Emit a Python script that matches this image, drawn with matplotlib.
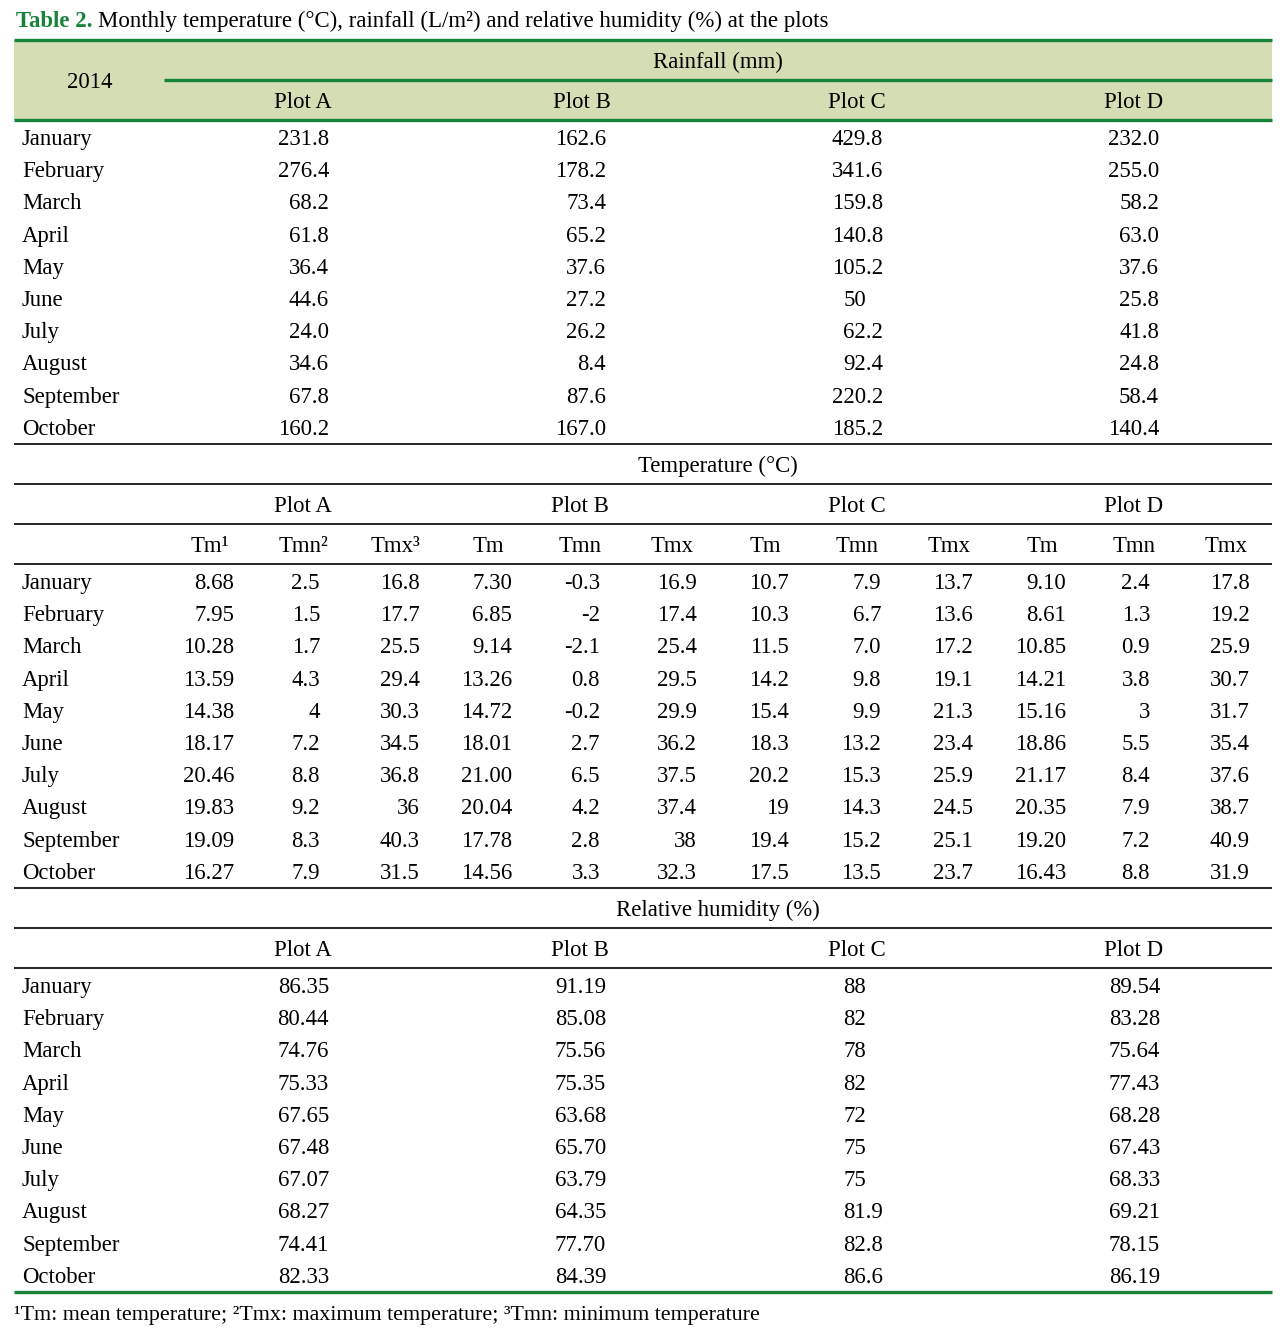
import matplotlib
matplotlib.use("Agg")
import matplotlib.pyplot as plt

# ---------------- data ----------------
months = ["January", "February", "March", "April", "May", "June",
          "July", "August", "September", "October"]
plots = ["Plot A", "Plot B", "Plot C", "Plot D"]

rain_a = ["231.8", "276.4", "68.2", "61.8", "36.4", "44.6", "24.0", "34.6", "67.8", "160.2"]
rain_b = ["162.6", "178.2", "73.4", "65.2", "37.6", "27.2", "26.2", "8.4", "87.6", "167.0"]
rain_c = ["429.8", "341.6", "159.8", "140.8", "105.2", "50", "62.2", "92.4", "220.2", "185.2"]
rain_d = ["232.0", "255.0", "58.2", "63.0", "37.6", "25.8", "41.8", "24.8", "58.4", "140.4"]

temp_labels = ["Tm\u00b9", "Tmn\u00b2", "Tmx\u00b3", "Tm", "Tmn", "Tmx",
               "Tm", "Tmn", "Tmx", "Tm", "Tmn", "Tmx"]
tm_a  = ["8.68", "7.95", "10.28", "13.59", "14.38", "18.17", "20.46", "19.83", "19.09", "16.27"]
tmn_a = ["2.5", "1.5", "1.7", "4.3", "4", "7.2", "8.8", "9.2", "8.3", "7.9"]
tmx_a = ["16.8", "17.7", "25.5", "29.4", "30.3", "34.5", "36.8", "36", "40.3", "31.5"]
tm_b  = ["7.30", "6.85", "9.14", "13.26", "14.72", "18.01", "21.00", "20.04", "17.78", "14.56"]
tmn_b = ["-0.3", "-2", "-2.1", "0.8", "-0.2", "2.7", "6.5", "4.2", "2.8", "3.3"]
tmx_b = ["16.9", "17.4", "25.4", "29.5", "29.9", "36.2", "37.5", "37.4", "38", "32.3"]
tm_c  = ["10.7", "10.3", "11.5", "14.2", "15.4", "18.3", "20.2", "19", "19.4", "17.5"]
tmn_c = ["7.9", "6.7", "7.0", "9.8", "9.9", "13.2", "15.3", "14.3", "15.2", "13.5"]
tmx_c = ["13.7", "13.6", "17.2", "19.1", "21.3", "23.4", "25.9", "24.5", "25.1", "23.7"]
tm_d  = ["9.10", "8.61", "10.85", "14.21", "15.16", "18.86", "21.17", "20.35", "19.20", "16.43"]
tmn_d = ["2.4", "1.3", "0.9", "3.8", "3", "5.5", "8.4", "7.9", "7.2", "8.8"]
tmx_d = ["17.8", "19.2", "25.9", "30.7", "31.7", "35.4", "37.6", "38.7", "40.9", "31.9"]

rh_a = ["86.35", "80.44", "74.76", "75.33", "67.65", "67.48", "67.07", "68.27", "74.41", "82.33"]
rh_b = ["91.19", "85.08", "75.56", "75.35", "63.68", "65.70", "63.79", "64.35", "77.70", "84.39"]
rh_c = ["88", "82", "78", "82", "72", "75", "75", "81.9", "82.8", "86.6"]
rh_d = ["89.54", "83.28", "75.64", "77.43", "68.28", "67.43", "68.33", "69.21", "78.15", "86.19"]

rain_cols = [rain_a, rain_b, rain_c, rain_d]
temp_cols = [tm_a, tmn_a, tmx_a, tm_b, tmn_b, tmx_b, tm_c, tmn_c, tmx_c, tm_d, tmn_d, tmx_d]
rh_cols = [rh_a, rh_b, rh_c, rh_d]

# ---------------- layout ----------------
W, H = 1280, 1336
fig = plt.figure(figsize=(W / 100, H / 100), dpi=100)
ax = fig.add_axes([0, 0, 1, 1])
ax.set_xlim(0, W)
ax.set_ylim(H, 0)
ax.axis("off")

FONT = "Liberation Serif"
FS = 16.4
GREEN = "#17833a"
FILL = "#d5ddb4"
X0, X1 = 14, 1272
BL = 8  # baseline offset from row centre

def txt(x, y, s, ha="left", **kw):
    return ax.text(x, y + BL, s, ha=ha, va="baseline", fontfamily=FONT,
                   fontsize=kw.pop("fs", FS), color=kw.pop("color", "black"), **kw)

def hline(y, x0=X0, x1=X1, color="black", lw=1.2):
    ax.plot([x0, x1], [y, y], color=color, lw=lw, solid_capstyle="butt")

# title
t1 = txt(16, 19, "Table 2.", color=GREEN, fontweight="bold")
fig.canvas.draw()
r = fig.canvas.get_renderer()
bb = t1.get_window_extent(renderer=r)
txt(bb.x1 + 6, 19, "Monthly temperature (\u00b0C), rainfall (L/m\u00b2) and relative humidity (%) at the plots",
    fs=16.5)

# width of a ".0" fraction for decimal alignment
tmp = txt(0, -100, ".0")
fig.canvas.draw()
frac_w = tmp.get_window_extent(renderer=r).width
tmp.remove()

def value(x_right, y, s, decimal=False):
    if decimal and "." not in s:
        txt(x_right - frac_w, y, s, ha="right")
    else:
        txt(x_right, y, s, ha="right")

# header block
ax.add_patch(plt.Rectangle((X0, 40), X1 - X0, 80, facecolor=FILL, edgecolor="none", zorder=0))
hline(39.5, color=GREEN, lw=2.4)
hline(80, x0=164, color=GREEN, lw=2.4)
hline(120, color=GREEN, lw=2.4)
txt(90, 80, "2014", ha="center")
txt(718, 60, "Rainfall (mm)", ha="center")

plot_centers = [303, 582, 857, 1134]
for xc, p in zip(plot_centers, plots):
    txt(xc, 100, p, ha="center")

row_step = 32.2
rain_right = [329, 606, 883, 1159]
for i, m in enumerate(months):
    y = 137 + i * row_step
    txt(22, y, m)
    for xr, col in zip(rain_right, rain_cols):
        value(xr, y, col[i], decimal=True)

# temperature
hline(443.5)
txt(718, 464, "Temperature (\u00b0C)", ha="center")
hline(483.5)
temp_plot_centers = [303, 580, 857, 1134]
for xc, p in zip(temp_plot_centers, plots):
    txt(xc, 504, p, ha="center")
hline(523.5)
temp_label_centers = [210, 303, 395, 488, 580, 672, 765, 857, 949, 1042, 1134, 1226]
for xc, lab in zip(temp_label_centers, temp_labels):
    txt(xc, 544, lab, ha="center")
hline(564)
temp_right = [234, 320, 420, 512, 600, 697, 789, 881, 973, 1066, 1150, 1250]
for i, m in enumerate(months):
    y = 581 + i * row_step
    txt(22, y, m)
    for xr, col in zip(temp_right, temp_cols):
        value(xr, y, col[i])

# relative humidity
hline(887.5)
txt(718, 908, "Relative humidity (%)", ha="center")
hline(928)
for xc, p in zip(temp_plot_centers, plots):
    txt(xc, 948, p, ha="center")
hline(968)
rh_right = [329, 606, 883, 1160]
for i, m in enumerate(months):
    y = 985 + i * row_step
    txt(22, y, m)
    for xr, col in zip(rh_right, rh_cols):
        value(xr, y, col[i], decimal=True)

hline(1292, color=GREEN, lw=2.4)
txt(14, 1312, "\u00b9Tm: mean temperature; \u00b2Tmx: maximum temperature; \u00b3Tmn: minimum temperature", fs=15.8)

fig.savefig("out.png", dpi=100)
